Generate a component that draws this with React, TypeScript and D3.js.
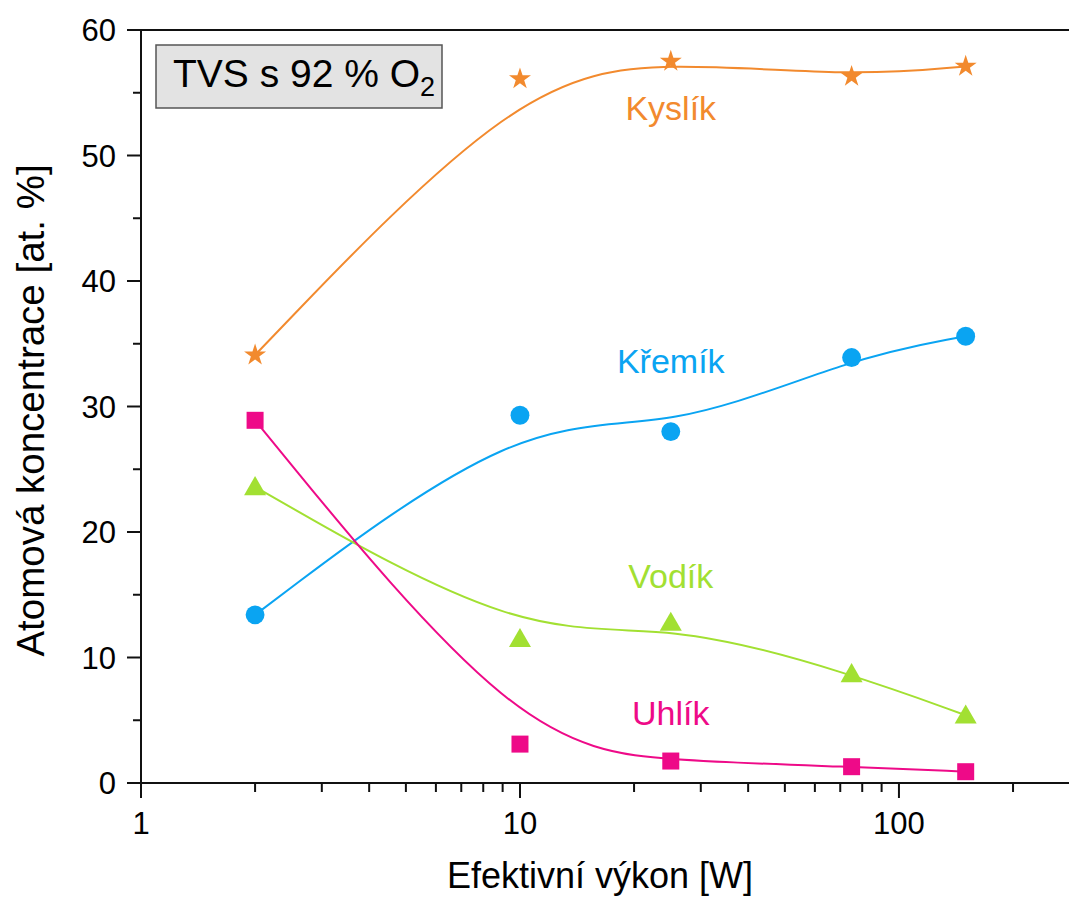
import * as d3 from "d3";

const powers = [2, 10, 25, 75, 150];
const kyslik = [34.1, 56.1, 57.5, 56.3, 57.1];
const kremik = [13.4, 29.3, 28.0, 33.9, 35.6];
const vodik = [23.6, 11.5, 12.8, 8.7, 5.4];
const uhlik = [28.9, 3.1, 1.75, 1.3, 0.9];

const xMajor = [1, 10, 100];
const xMinor = [2, 3, 4, 5, 6, 7, 8, 9, 20, 30, 40, 50, 60, 70, 80, 90, 200];
const yMajor = [0, 10, 20, 30, 40, 50, 60];
const yMinor = [5, 15, 25, 35, 45, 55];

const W = 1069;
const H = 897;
const margin = { top: 30, right: 0, bottom: 114, left: 141 };
const font = "'Liberation Sans', Arial, sans-serif";

const series = [
  { name: "Kyslík", values: kyslik, color: "#F28A2E", symbol: d3.symbolStar, size: 150, labelX: 25, labelY: 52.8 },
  { name: "Křemík", values: kremik, color: "#0AA4F2", symbol: d3.symbolCircle, size: 280, labelX: 25, labelY: 32.7 },
  { name: "Vodík", values: vodik, color: "#A2E032", symbol: d3.symbolTriangle, size: 210, labelX: 25, labelY: 15.5 },
  { name: "Uhlík", values: uhlik, color: "#EE0A88", symbol: d3.symbolSquare, size: 289, labelX: 25, labelY: 4.6 },
];

export default function App() {
  const x = d3.scaleLog().domain([1, 281]).range([margin.left, W - margin.right]);
  const y = d3.scaleLinear().domain([0, 60]).range([H - margin.bottom, margin.top]);
  const x0 = margin.left;
  const y0 = H - margin.bottom;

  const line = d3
    .line<number>()
    .x((_, i) => x(powers[i]))
    .y((d) => y(d))
    .curve(d3.curveBasis);

  return (
    <svg width={W} height={H} style={{ position: "absolute", left: 0, top: 0, background: "#fff" }} fontFamily={font}>
      {/* curves */}
      {series.map((s) => (
        <path key={s.name + "-line"} d={line(s.values) ?? ""} fill="none" stroke={s.color} strokeWidth={2} />
      ))}
      {/* markers */}
      {series.map((s) =>
        s.values.map((v, i) => (
          <path
            key={s.name + i}
            d={d3.symbol().type(s.symbol).size(s.size)() ?? ""}
            transform={`translate(${x(powers[i])},${y(v)})${s.symbol === d3.symbolTriangle ? " translate(0,2)" : ""}`}
            fill={s.color}
          />
        ))
      )}
      {/* series labels */}
      {series.map((s) => (
        <text key={s.name + "-lbl"} x={x(s.labelX)} y={y(s.labelY)} fill={s.color} fontSize={34} textAnchor="middle">
          {s.name}
        </text>
      ))}

      {/* axes */}
      <line x1={x0} x2={W} y1={margin.top} y2={margin.top} stroke="#111" strokeWidth={2} />
      <line x1={x0} x2={x0} y1={margin.top - 1} y2={y0 + 1} stroke="#111" strokeWidth={2} />
      <line x1={x0 - 14} x2={W} y1={y0} y2={y0} stroke="#111" strokeWidth={2} />

      {yMajor.map((t) => (
        <g key={"ym" + t}>
          <line x1={x0 - 14} x2={x0} y1={y(t)} y2={y(t)} stroke="#111" strokeWidth={2} />
          <text x={x0 - 25} y={y(t)} dy="0.36em" textAnchor="end" fontSize={31} fill="#000">
            {t}
          </text>
        </g>
      ))}
      {yMinor.map((t) => (
        <line key={"yn" + t} x1={x0 - 8} x2={x0} y1={y(t)} y2={y(t)} stroke="#111" strokeWidth={2} />
      ))}
      {xMajor.map((t) => (
        <g key={"xm" + t}>
          <line x1={x(t)} x2={x(t)} y1={y0} y2={y0 + 15} stroke="#111" strokeWidth={2} />
          <text x={x(t)} y={y0 + 51} textAnchor="middle" fontSize={31} fill="#000">
            {t}
          </text>
        </g>
      ))}
      {xMinor.map((t) => (
        <line key={"xn" + t} x1={x(t)} x2={x(t)} y1={y0} y2={y0 + 9} stroke="#111" strokeWidth={2} />
      ))}

      {/* axis titles */}
      <text x={600} y={888} textAnchor="middle" fontSize={36} fill="#000">
        Efektivní výkon [W]
      </text>
      <text transform={`translate(44,${(margin.top + y0) / 2 + 4}) rotate(-90)`} textAnchor="middle" fontSize={38.5} fill="#000">
        Atomová koncentrace [at. %]
      </text>

      {/* annotation box */}
      <rect x={156} y={45} width={286} height={63} fill="#E3E3E3" stroke="#555" strokeWidth={1.5} />
      <text x={173} y={87} fontSize={39} fill="#000">
        TVS s 92 % O
        <tspan fontSize={27} dy={9}>
          2
        </tspan>
      </text>
    </svg>
  );
}
